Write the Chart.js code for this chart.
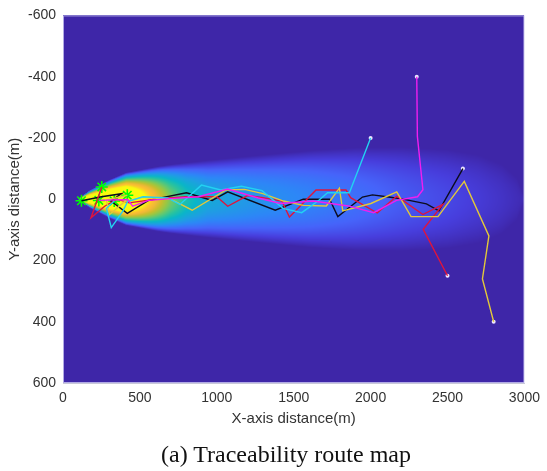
<!DOCTYPE html>
<html>
<head>
<meta charset="utf-8">
<script src="https://cdn.jsdelivr.net/npm/chart.js@4.4.0/dist/chart.umd.min.js"></script>
<style>
  html, body { margin: 0; padding: 0; background: #fff; }
  #wrap { position: relative; width: 547px; height: 471px; }
  #caption {
    position: absolute; left: 0; width: 572px; top: 441px;
    text-align: center; font: 24px "Liberation Serif", "Times New Roman", serif; color: #111;
  }
</style>
</head>
<body>
<div id="wrap">
  <canvas id="chart" width="547" height="471"></canvas>
  <div id="caption">(a) Traceability route map</div>
</div>
<script>
// axis ticks
const xTicks = [0, 500, 1000, 1500, 2000, 2500, 3000];
const yTicks = [-600, -400, -200, 0, 200, 400, 600];

// traced routes, from the start point (white dot) to the located source (green star)
const magentaX = [2300, 2304, 2340, 2305, 2168, 2020, 1855, 1626, 1413, 1270, 1070, 880, 700, 556, 453, 421, 233];
const magentaY = [-400, -205, -31, -8, 4, 44, 22, 6, 14, -4, -33, -8, -2, 4, 23, 1, 4];

const cyanX = [2000, 1862, 1720, 1660, 1552, 1430, 1294, 1160, 1026, 900, 760, 680, 520, 420, 389, 314, 282, 333];
const cyanY = [-200, -21, -21, 5, 44, 30, -28, -42, -30, -46, 17, -4, -8, 8, 39, 93, 30, 6];

const yellowX = [2800, 2727, 2769, 2609, 2438, 2263, 2170, 2002, 1819, 1797, 1712, 1562, 1434, 1300, 1180, 1060, 840, 700, 520, 400, 303, 282, 418];
const yellowY = [400, 260, 120, -58, 57, 57, -24, 14, 38, -36, 22, 20, 6, -18, -32, -30, 36, 0, -6, 8, 50, 3, -13];

const redX = [2500, 2342, 2470, 2340, 2170, 2043, 1870, 1840, 1645, 1472, 1423, 1300, 1200, 1071, 1000, 800, 600, 430, 350, 271, 182, 252];
const redY = [250, 98, 17, 50, -10, 45, -5, -30, -30, 58, 6, -5, -12, 23, -8, -8, 0, 12, 0, 23, 61, -40];

const blackX = [2600, 2444, 2363, 2203, 2118, 2012, 1947, 1787, 1733, 1562, 1380, 1071, 970, 803, 556, 418, 312, 380, 250, 120];
const blackY = [-100, 38, 15, -1, -7, -14, -7, 57, 0, 0, 36, -24, 4, -21, 4, 46, 6, -18, -8, 5];

// plume: centre level on the colour scale and half-width of the lit region
const plumeX     = [98, 170, 300, 410, 620, 700, 800, 940, 1260, 1600, 1900, 2200, 2500, 2700, 2850, 2950, 3000];
const plumeLevel = [1.2, 1.3, 1.35, 1.3, 0.8, 0.62, 0.47, 0.36, 0.29, 0.24, 0.19, 0.14, 0.1, 0.07, 0.045, 0.025, 0.015];
const plumeHalf  = [0, 27, 62, 86, 106, 112, 118, 126, 142, 158, 168, 170, 162, 145, 115, 70, 0];

// parula-like colormap anchors
const cmapStops = [0, 0.08, 0.16, 0.25, 0.33, 0.42, 0.5, 0.58, 0.67, 0.75, 0.83, 0.9, 0.95, 1];
const cmapColors = [
  [62, 38, 168], [71, 62, 221], [70, 100, 250], [45, 135, 247], [30, 160, 225], [10, 182, 200],
  [40, 195, 160], [90, 200, 120], [150, 200, 70], [200, 190, 45], [240, 185, 55], [254, 195, 45],
  [248, 220, 35], [249, 251, 14]
];

function parula(t) {
  for (let i = 1; i < cmapStops.length; i++) {
    if (t <= cmapStops[i]) {
      const f = (t - cmapStops[i - 1]) / (cmapStops[i] - cmapStops[i - 1]);
      const a = cmapColors[i - 1], b = cmapColors[i];
      return [a[0] + (b[0] - a[0]) * f, a[1] + (b[1] - a[1]) * f, a[2] + (b[2] - a[2]) * f];
    }
  }
  return cmapColors[cmapColors.length - 1];
}

function plumeAt(xv) {
  if (xv < plumeX[0] || xv > plumeX[plumeX.length - 1]) return [0, 0];
  for (let i = 1; i < plumeX.length; i++) {
    if (xv <= plumeX[i]) {
      const f = (xv - plumeX[i - 1]) / (plumeX[i] - plumeX[i - 1]);
      return [plumeLevel[i - 1] + (plumeLevel[i] - plumeLevel[i - 1]) * f,
              plumeHalf[i - 1] + (plumeHalf[i] - plumeHalf[i - 1]) * f];
    }
  }
  return [0, 0];
}

const plumeBackground = {
  id: 'plumeBackground',
  beforeDatasetsDraw(chart) {
    const { ctx, chartArea: a, scales } = chart;
    const w = Math.round(a.right - a.left), h = Math.round(a.bottom - a.top);
    const off = document.createElement('canvas');
    off.width = w; off.height = h;
    const octx = off.getContext('2d');
    const img = octx.createImageData(w, h);
    for (let i = 0; i < w; i++) {
      const xv = scales.x.getValueForPixel(a.left + i + 0.5);
      const [lvl, half] = plumeAt(xv);
      for (let j = 0; j < h; j++) {
        const yv = scales.y.getValueForPixel(a.top + j + 0.5);
        let t = 0;
        if (half > 0) {
          const r = yv / half;
          t = Math.max(0, lvl * (1 - r * r));
        }
        const c = parula(Math.min(1, t));
        const k = (j * w + i) * 4;
        img.data[k] = c[0]; img.data[k + 1] = c[1]; img.data[k + 2] = c[2]; img.data[k + 3] = 255;
      }
    }
    octx.putImageData(img, 0, 0);
    ctx.drawImage(off, a.left, a.top, a.right - a.left, a.bottom - a.top);
    ctx.save();
    ctx.strokeStyle = 'rgba(190,185,235,0.9)';
    ctx.lineWidth = 1;
    ctx.strokeRect(a.left + 0.5, a.top + 0.5, a.right - a.left - 1, a.bottom - a.top - 1);
    ctx.restore();
  }
};

const routes = [
  { xs: magentaX, ys: magentaY, color: '#f01ef0' },
  { xs: cyanX, ys: cyanY, color: '#22d2f2' },
  { xs: yellowX, ys: yellowY, color: '#e2c83a' },
  { xs: redX, ys: redY, color: '#e0143c' },
  { xs: blackX, ys: blackY, color: '#0c0c1e' }
];

const toPoints = (xs, ys) => xs.map((v, i) => ({ x: v, y: ys[i] }));

const datasets = routes.map(r => ({
  data: toPoints(r.xs, r.ys),
  showLine: true,
  borderColor: r.color,
  borderWidth: 1.4,
  pointRadius: 0,
  tension: 0
}));

datasets.push({
  data: routes.map(r => ({ x: r.xs[0], y: r.ys[0] })),
  pointStyle: 'circle',
  pointRadius: 2,
  pointBackgroundColor: '#ece6ff',
  pointBorderWidth: 0,
  showLine: false
});
datasets.push({
  data: routes.map(r => ({ x: r.xs[r.xs.length - 1], y: r.ys[r.ys.length - 1] })),
  pointStyle: 'star',
  pointRadius: 6,
  pointBorderColor: '#00ff00',
  pointBorderWidth: 1.6,
  showLine: false
});

const tickFont = { family: '"Liberation Sans", Arial, sans-serif', size: 14 };
const titleFont = { family: '"Liberation Sans", Arial, sans-serif', size: 15 };

new Chart(document.getElementById('chart'), {
  type: 'scatter',
  data: { datasets },
  options: {
    responsive: false,
    animation: false,
    layout: { padding: { left: 0, right: 16, top: 13, bottom: 43 } },
    plugins: { legend: { display: false }, tooltip: { enabled: false } },
    scales: {
      x: {
        type: 'linear', min: 0, max: 3000,
        afterBuildTicks: axis => { axis.ticks = xTicks.map(v => ({ value: v })); },
        afterFit: axis => { axis.height = 45; },
        grid: { display: false, drawTicks: false },
        border: { display: true, color: '#c8c8d8' },
        ticks: { font: tickFont, color: '#333', padding: 7, maxRotation: 0, callback: v => String(v) },
        title: { display: true, text: 'X-axis distance(m)', font: titleFont, color: '#333', padding: { top: 0, bottom: 0 } }
      },
      y: {
        type: 'linear', min: -600, max: 600, reverse: true,
        afterBuildTicks: axis => { axis.ticks = yTicks.map(v => ({ value: v })); },
        afterFit: axis => { axis.width = 63; },
        grid: { display: false, drawTicks: false },
        border: { display: true, color: '#c8c8d8' },
        ticks: { font: tickFont, color: '#333', padding: 7, callback: v => String(v) },
        title: { display: true, text: 'Y-axis distance(m)', font: titleFont, color: '#333', padding: { top: 6, bottom: 0 } }
      }
    }
  },
  plugins: [plumeBackground]
});
</script>
</body>
</html>
